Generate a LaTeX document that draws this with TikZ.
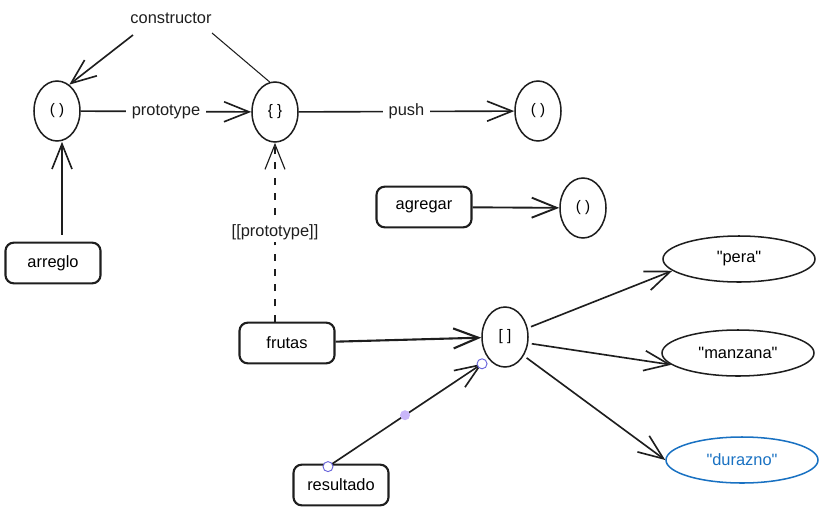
\documentclass[tikz,border=0pt]{standalone}
\usepackage{fontspec}
\setmainfont{Liberation Sans}[Ligatures=TeXOff]
\usetikzlibrary{arrows.meta, shapes.geometric, calc}

\definecolor{ink}{HTML}{1E1E1E}
\definecolor{exblue}{HTML}{1971C2}
\definecolor{selpurple}{HTML}{6965DB}
\definecolor{selfill}{HTML}{C9B6FA}

\begin{document}
\begin{tikzpicture}[
  x=0.03cm, y=-0.03cm,
  obj/.style={ellipse, draw=ink, line width=1.3pt, minimum width=1.38cm, minimum height=1.8cm, inner sep=0pt, font=\fontsize{13}{15}\selectfont},
  var/.style={rectangle, rounded corners=7pt, draw=ink, line width=1.8pt, minimum width=2.85cm, minimum height=1.22cm, font=\fontsize{14}{17}\selectfont},
  str/.style={ellipse, draw=ink, line width=1.3pt, minimum width=4.56cm, minimum height=1.38cm, inner sep=0pt, font=\fontsize{14}{17}\selectfont},
  ref/.style={-{Straight Barb[length=7.5mm, width=6mm]}, line width=1.4pt, draw=ink},
  lbl/.style={fill=white, text=ink, inner xsep=5pt, inner ysep=2pt, font=\fontsize{14}{17}\selectfont},
  handle/.style={circle, draw=selpurple, fill=white, line width=0.8pt, minimum size=0.3cm, inner sep=0pt},
]
  \useasboundingbox (0,0) rectangle (833,522);

  % objects
  \node[obj] (arrfn) at (57, 111) {( )};
  \node[obj] (proto) at (275, 112) {\{ \}};
  \node[obj] (pushfn) at (538, 111) {( )};
  \node[obj] (fn) at (583, 208) {( )};
  \node[obj] (list) at (505, 337) {[ ]};

  % variables
  \node[var] (arreglo) at (53, 263) {arreglo};
  \node[var] (agregar) at (424, 207) {agregar};
  \node[var] (frutas) at (287, 343) {frutas};
  \node[var] (resultado) at (341, 485) {resultado};

  % strings
  \node[str] (pera) at (739, 259) {"pera"};
  \node[str] (manzana) at (738, 353) {"manzana"};
  \node[str, draw=exblue, text=exblue] (durazno) at (742, 460) {"durazno"};

  % constructor
  \node[lbl, fill=none] (cons) at (171, 18) {constructor};
  \coordinate (consL) at (133, 35);
  \coordinate (consR) at (212, 33);
  \draw[ref] (consL) -- (arrfn.65);
  \draw[ink, line width=0.9pt] (proto.100) -- (consR);

  \draw[ref] (arrfn) -- (proto) node[lbl, midway] {prototype};
  \draw[ref] (proto) -- (pushfn) node[lbl, midway] {push};
  \draw[ref] ([xshift=0.27cm, yshift=0.2cm]arreglo.north) -- ([xshift=0.15cm]arrfn.south);
  \draw[ref, line width=1pt, dash pattern=on 6pt off 7pt] (frutas.north -| proto.south) -- (proto.south)
    node[lbl, pos=0.5] {[[prototype]]};
  \draw[ref, line width=1.6pt] (agregar) -- (fn);
  \draw[ref, line width=1.8pt] (frutas) -- (list);

  \draw[ref, shorten <=3pt] (list) -- (pera.190);
  \draw[ref, shorten <=3pt] (list.-15) -- (manzana.190);
  \draw[ref, shorten <=3pt] (list.-45) -- (durazno.west);

  % selected arrow
  \coordinate (rs) at ($(resultado.north)+(-13,3)$);
  \coordinate (re) at ($(list.235)+(-7,4)$);
  \draw[ref] (rs) -- (re);
  \node[handle] (h1) at (rs) {};
  \node[handle] (h2) at (re) {};
  \node[circle, fill=selfill, minimum size=0.3cm, inner sep=0pt] (hm) at ($(rs)!0.5!(re)$) {};
\end{tikzpicture}
\end{document}
